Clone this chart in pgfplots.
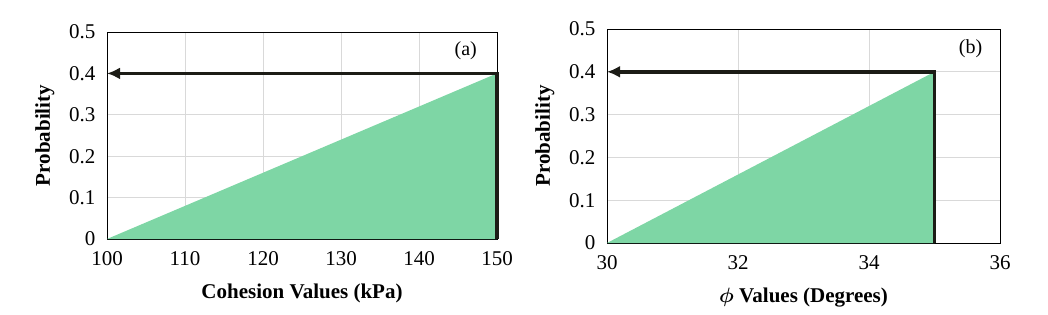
\documentclass[border=0pt]{standalone}
\usepackage{pgfplots}
\pgfplotsset{compat=1.18}
\usetikzlibrary{arrows.meta}
\usepackage{fontspec}
\setmainfont{Liberation Serif}
\definecolor{fillgreen}{HTML}{7ED6A5}
\definecolor{linedark}{HTML}{1C1C16}
\pgfplotsset{
  myax/.style={
    scale only axis,
    axis line style={black, line width=0.8pt},
    grid=major,
    major grid style={draw=black!15, line width=0.8pt},
    major tick length=0pt,
    ymin=0, ymax=0.5,
    ytick={0,0.1,0.2,0.3,0.4,0.5},
    yticklabels={0,0.1,0.2,0.3,0.4,0.5},
    tick label style={font=\fontsize{21}{24}\selectfont},
    yticklabel style={xshift=-8pt},
    xticklabel style={yshift=-9pt},
    /pgf/number format/assume math mode=true,
    label style={font=\bfseries\fontsize{21}{24}\selectfont},
    ylabel={Probability},
    ylabel style={yshift=8pt},
    xlabel style={yshift=-11pt},
    clip=false,
    axis on top=false,
  }
}
\begin{document}
\begin{tikzpicture}[x=1pt,y=1pt]
\path (0,0) rectangle (1048,314);
\begin{axis}[myax,
  at={(107pt,75pt)}, anchor=south west,
  width=390pt, height=207pt,
  xmin=100, xmax=150,
  xtick={100,110,120,130,140,150},
  xticklabels={100,110,120,130,140,150},
  xlabel={Cohesion Values (kPa)},
]
\addplot[fill=fillgreen, draw=none] coordinates {(100,0) (150,0.4) (150,0)} -- cycle;
\addplot[linedark, line width=3.5pt, -{Latex[length=13pt,width=12pt]}] coordinates {(150,0) (150,0.4) (100,0.4)};
\node[font=\fontsize{20}{24}\selectfont, anchor=center] at (axis cs:146,0.455) {(a)};
\end{axis}
\begin{axis}[myax,
  at={(607pt,71pt)}, anchor=south west,
  width=393pt, height=214pt,
  xmin=30, xmax=36,
  xtick={30,32,34,36},
  xticklabels={30,32,34,36},
  xlabel={{\boldmath$\phi$} Values (Degrees)},
]
\addplot[fill=fillgreen, draw=none] coordinates {(30,0) (35,0.4) (35,0)} -- cycle;
\addplot[linedark, line width=3.5pt, -{Latex[length=13pt,width=12pt]}] coordinates {(35,0) (35,0.4) (30,0.4)};
\node[font=\fontsize{20}{24}\selectfont, anchor=center] at (axis cs:35.55,0.455) {(b)};
\end{axis}
\end{tikzpicture}
\end{document}
